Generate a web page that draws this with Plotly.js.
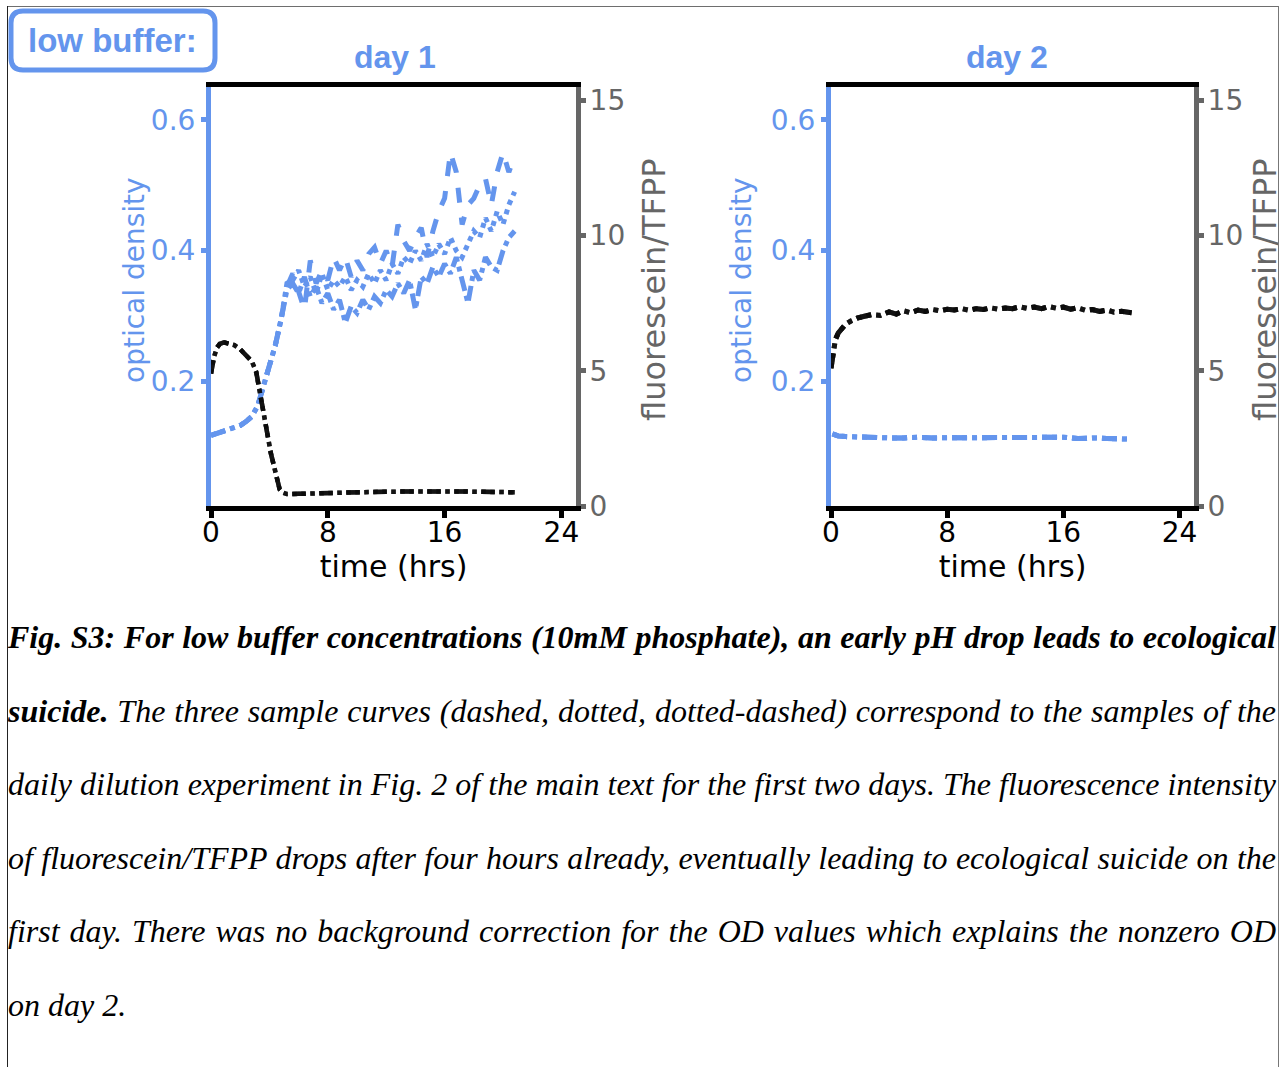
<!DOCTYPE html>
<html>
<head>
<meta charset="utf-8">
<script src="https://cdn.plot.ly/plotly-3.0.1.min.js"></script>
<style>
  html, body { margin: 0; padding: 0; background: #fff; }
  #wrap { position: relative; width: 1283px; height: 1067px; overflow: hidden; background: #fff; }
  #chart { position: absolute; left: 0; top: 0; width: 1279px; height: 1067px; }
  .edge { position: absolute; }
  #caption { position: absolute; left: 8px; top: 601px; width: 1268px;
             font-family: "Liberation Serif", "Times New Roman", serif; font-style: italic;
             font-size: 32px; color: #000; }
  #caption div { height: 73.6px; line-height: 73.6px; text-align: justify; text-align-last: justify; }
  #caption div.last { text-align-last: left; }
</style>
</head>
<body>
<div id="wrap">
  <div id="chart"></div>
  <div class="edge" style="left:7px; top:6px; width:1272px; height:1px; background:#6e6e6e;"></div>
  <div class="edge" style="left:7px; top:6px; width:1px; height:1061px; background:#222;"></div>
  <div class="edge" style="left:1278px; top:6px; width:1px; height:1061px; background:#777;"></div>
  <div id="caption">
    <div><b>Fig. S3: For low buffer concentrations (10mM phosphate), an early pH drop leads to ecological</b></div>
    <div><b>suicide.</b> The three sample curves (dashed, dotted, dotted-dashed) correspond to the samples of the</div>
    <div>daily dilution experiment in Fig. 2 of the main text for the first two days. The fluorescence intensity</div>
    <div>of fluorescein/TFPP drops after four hours already, eventually leading to ecological suicide on the</div>
    <div>first day. There was no background correction for the OD values which explains the nonzero OD</div>
    <div class="last">on day 2.</div>
  </div>
</div>
<script>
// ---------------- data ----------------
// Day 1, optical density (three samples)
const timeD1OD = [0,0.4,0.8,1.2,1.6,2.0,2.4,2.8,3.2,3.6,4.0,4.4,4.8,5.2,
  5.6,6.0,6.4,6.8,7.2,7.6,8.0,8.4,8.8,9.2,9.6,10.0,10.4,10.8,11.2,11.6,12.0,12.4,12.8,13.2,13.6,
  14.0,14.4,14.8,15.2,15.6,16.0,16.4,16.8,17.2,17.6,18.0,18.4,18.8,19.2,19.6,20.0,20.4,20.8];
const odD1Dashed = [0.118,0.121,0.123,0.126,0.129,0.133,0.139,0.147,0.163,0.192,0.222,0.255,0.295,0.345,
  0.365,0.34,0.31,0.385,0.35,0.37,0.355,0.39,0.37,0.39,0.36,0.385,0.37,0.395,0.405,0.38,0.40,0.375,0.44,0.415,0.40,
  0.42,0.435,0.39,0.43,0.46,0.48,0.55,0.52,0.44,0.47,0.48,0.50,0.51,0.47,0.52,0.55,0.52,0.545];
const odD1Dotted = [0.118,0.121,0.123,0.126,0.129,0.133,0.139,0.147,0.163,0.192,0.222,0.255,0.295,0.35,
  0.355,0.37,0.345,0.36,0.335,0.365,0.34,0.355,0.345,0.36,0.34,0.355,0.345,0.365,0.35,0.37,0.355,0.38,0.365,0.39,0.38,
  0.40,0.385,0.41,0.39,0.41,0.395,0.42,0.40,0.39,0.41,0.43,0.42,0.45,0.43,0.46,0.44,0.47,0.49];
const odD1DashDot = [0.118,0.121,0.123,0.126,0.129,0.133,0.139,0.147,0.163,0.192,0.222,0.255,0.295,0.34,
  0.35,0.335,0.36,0.33,0.345,0.32,0.335,0.31,0.325,0.29,0.315,0.305,0.325,0.31,0.33,0.32,0.34,0.33,0.35,0.335,0.355,
  0.31,0.36,0.35,0.375,0.36,0.38,0.365,0.39,0.355,0.32,0.37,0.355,0.39,0.375,0.37,0.40,0.42,0.43];

// Day 1, fluorescein/TFPP (three overlapping samples)
const timeD1F = [0,0.2,0.4,0.6,0.9,1.2,1.6,2.0,2.4,2.8,3.1,3.3,3.5,3.7,3.9,4.1,4.3,4.5,4.7,4.9,5.2,
  6,7,8,9,10,11,12,13,14,15,16,17,18,19,20,20.8];
const fluorD1 = [4.9,5.5,5.85,6.0,6.05,6.02,5.95,5.8,5.6,5.35,4.95,4.4,3.75,3.15,2.55,1.95,1.45,0.95,0.62,0.5,0.44,
  0.45,0.47,0.48,0.5,0.51,0.52,0.53,0.54,0.55,0.55,0.55,0.54,0.53,0.53,0.52,0.51];

// Day 2, optical density
const timeD2OD = [0.1,0.5,1,2,3,4,5,6,7,8,9,10,11,12,13,14,15,16,17,18,19,20,20.7];
const odD2 = [0.12,0.117,0.116,0.115,0.115,0.114,0.114,0.115,0.114,0.114,0.115,0.114,0.115,0.114,0.115,0.114,
  0.114,0.115,0.113,0.114,0.113,0.113,0.112];

// Day 2, fluorescein/TFPP
const timeD2F = [0,0.15,0.3,0.5,0.75,1.0,1.4,1.8,2.3,2.8,3.4,4,4.5,5,5.5,6,6.5,7,7.5,8,8.5,9,9.5,10,10.5,11,
  11.5,12,12.5,13,13.5,14,14.5,15,15.5,16,16.5,17,17.5,18,18.5,19,19.5,20,20.7];
const fluorD2 = [5.1,5.8,6.15,6.4,6.6,6.72,6.85,6.95,7.02,7.08,7.05,7.18,7.1,7.22,7.15,7.25,7.2,7.27,7.22,7.28,
  7.25,7.3,7.24,7.3,7.27,7.33,7.28,7.32,7.3,7.37,7.31,7.36,7.3,7.38,7.32,7.36,7.28,7.33,7.24,7.27,7.2,7.25,7.17,7.2,7.15];

const xTicks = [0, 8, 16, 24];
const odTicks = [0.2, 0.4, 0.6];
const odTickText = ['0.2', '0.4', '0.6'];
const fluorTicks = [0, 5, 10, 15];
const dashStyles = ['dash', 'dot', 'dashdot'];

// ---------------- styling ----------------
const W = 1279, H = 1067;
const px = v => v / W;
const py = v => 1 - v / H;
const BLUE = '#6495ED', GRAY = '#666666', DARK = 'rgba(10,10,10,0.8)';
const FONT = 'DejaVu Sans, sans-serif';
const BOLDFONT = 'Liberation Sans, Arial, sans-serif';

const ydom = [py(506), py(87)];

function xAxis(domain, anchor) {
  return {
    domain: domain, anchor: anchor, range: [0, 25],
    tickmode: 'array', tickvals: xTicks, ticktext: xTicks.map(String),
    ticks: 'outside', ticklen: 7, tickwidth: 5, tickcolor: '#000',
    ticklabelstandoff: -10,
    showline: true, linecolor: '#000', linewidth: 5, mirror: true,
    showgrid: false, zeroline: false,
    tickfont: { family: FONT, size: 28, color: '#000' },
    title: { text: 'time (hrs)', font: { family: FONT, size: 30, color: '#000' }, standoff: 0 }
  };
}
function odAxis(anchor) {
  return {
    domain: ydom, anchor: anchor, range: [0.01, 0.65],
    tickmode: 'array', tickvals: odTicks, ticktext: odTickText,
    ticks: 'outside', ticklen: 5, tickwidth: 5, tickcolor: BLUE,
    showline: true, linecolor: BLUE, linewidth: 5,
    showgrid: false, zeroline: false,
    tickfont: { family: FONT, size: 28, color: BLUE }
  };
}
function fluorAxis(anchor, over) {
  return {
    domain: ydom, anchor: anchor, overlaying: over, side: 'right', range: [0, 15.5],
    tickmode: 'array', tickvals: fluorTicks, ticktext: fluorTicks.map(String),
    ticks: 'outside', ticklen: 5, tickwidth: 5, tickcolor: GRAY,
    ticklabelstandoff: -2,
    showline: true, linecolor: GRAY, linewidth: 5,
    showgrid: false, zeroline: false,
    tickfont: { family: FONT, size: 28, color: GRAY }
  };
}

const traces = [];
const od1 = [odD1Dashed, odD1Dotted, odD1DashDot];
od1.forEach((ys, i) => traces.push({
  x: timeD1OD, y: ys, xaxis: 'x', yaxis: 'y', mode: 'lines',
  line: { color: BLUE, width: 5, dash: dashStyles[i] }, showlegend: false
}));
dashStyles.forEach(d => traces.push({
  x: timeD1F, y: fluorD1, xaxis: 'x', yaxis: 'y2', mode: 'lines',
  line: { color: DARK, width: 4.5, dash: d }, showlegend: false
}));
dashStyles.forEach(d => traces.push({
  x: timeD2OD, y: odD2, xaxis: 'x2', yaxis: 'y3', mode: 'lines',
  line: { color: BLUE, width: 5, dash: d }, showlegend: false
}));
dashStyles.forEach(d => traces.push({
  x: timeD2F, y: fluorD2, xaxis: 'x2', yaxis: 'y4', mode: 'lines',
  line: { color: DARK, width: 5, dash: d }, showlegend: false
}));

// rounded box around "low buffer:"
function roundRect(x0, y0, x1, y1, r) {
  const X = v => px(v), Y = v => py(v);
  return `M ${X(x0 + r)} ${Y(y0)} L ${X(x1 - r)} ${Y(y0)} Q ${X(x1)} ${Y(y0)} ${X(x1)} ${Y(y0 + r)} ` +
         `L ${X(x1)} ${Y(y1 - r)} Q ${X(x1)} ${Y(y1)} ${X(x1 - r)} ${Y(y1)} ` +
         `L ${X(x0 + r)} ${Y(y1)} Q ${X(x0)} ${Y(y1)} ${X(x0)} ${Y(y1 - r)} ` +
         `L ${X(x0)} ${Y(y0 + r)} Q ${X(x0)} ${Y(y0)} ${X(x0 + r)} ${Y(y0)} Z`;
}

function yTitle(text, xPix, yPix, color, size) {
  return { text: text, xref: 'paper', yref: 'paper', x: px(xPix), y: py(yPix),
           xanchor: 'center', yanchor: 'middle', textangle: -90, showarrow: false,
           font: { family: FONT, size: size, color: color } };
}

const layout = {
  width: W, height: H,
  margin: { l: 0, r: 0, t: 0, b: 0 },
  paper_bgcolor: '#fff', plot_bgcolor: 'rgba(0,0,0,0)',
  showlegend: false,
  xaxis: xAxis([px(211), px(576)], 'y'),
  yaxis: odAxis('x'),
  yaxis2: fluorAxis('x', 'y'),
  xaxis2: xAxis([px(831), px(1194)], 'y3'),
  yaxis3: odAxis('x2'),
  yaxis4: fluorAxis('x2', 'y3'),
  shapes: [{ type: 'path', xref: 'paper', yref: 'paper', path: roundRect(11, 11, 215, 70, 12),
             line: { color: BLUE, width: 5 }, fillcolor: 'rgba(0,0,0,0)' }],
  annotations: [
    { text: 'low buffer:', xref: 'paper', yref: 'paper', x: px(112), y: py(40), xanchor: 'center', yanchor: 'middle',
      showarrow: false, font: { family: BOLDFONT, size: 33, color: BLUE, weight: 'bold' } },
    { text: 'day 1', xref: 'paper', yref: 'paper', x: px(395), y: py(57), xanchor: 'center', yanchor: 'middle',
      showarrow: false, font: { family: BOLDFONT, size: 32, color: BLUE, weight: 'bold' } },
    { text: 'day 2', xref: 'paper', yref: 'paper', x: px(1007), y: py(57), xanchor: 'center', yanchor: 'middle',
      showarrow: false, font: { family: BOLDFONT, size: 32, color: BLUE, weight: 'bold' } },
    yTitle('optical density', 134, 280, BLUE, 28),
    yTitle('fluorescein/TFPP', 654, 290, GRAY, 32),
    yTitle('optical density', 741, 280, BLUE, 28),
    yTitle('fluorescein/TFPP', 1265, 290, GRAY, 32)
  ]
};

Plotly.newPlot('chart', traces, layout, { displayModeBar: false, staticPlot: true });
</script>
</body>
</html>
